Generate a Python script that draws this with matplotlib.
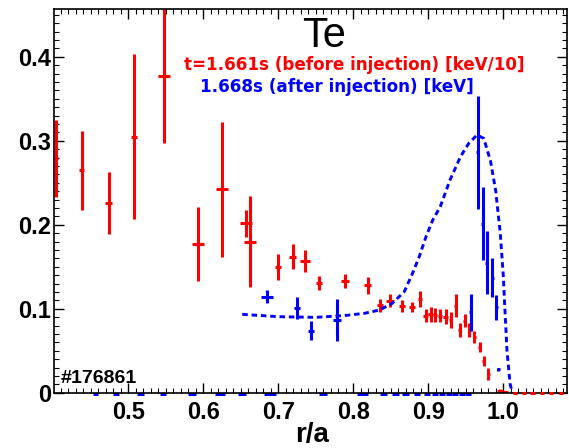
import matplotlib

matplotlib.use("Agg")
import matplotlib.pyplot as plt
import numpy as np
from matplotlib.ticker import FuncFormatter, MultipleLocator

# before injection (keV/10): r/a, Te, Te error, r/a error
red_x = [0.4036, 0.4377, 0.4737, 0.5071, 0.548, 0.593, 0.625, 0.657, 0.6617, 0.699,
         0.719, 0.7356, 0.7547, 0.7889, 0.8191, 0.8356, 0.849, 0.8653, 0.8787, 0.8889,
         0.8964, 0.9031, 0.909, 0.9156, 0.9231, 0.9297, 0.9364, 0.9423, 0.9489, 0.9547,
         0.9613, 0.9689, 0.9742, 0.980, 0.995, 1.003]
red_y = [0.279, 0.265, 0.226, 0.305, 0.377, 0.177, 0.242, 0.2017, 0.180, 0.150,
         0.162, 0.157, 0.131, 0.133, 0.128, 0.104, 0.1095, 0.1036, 0.1017, 0.1115,
         0.0917, 0.0933, 0.0925, 0.0917, 0.0905, 0.0865, 0.1036, 0.0746, 0.0857, 0.0746,
         0.066, 0.0548, 0.038, 0.022, 0.002, 0.001]
red_yerr = [0.046, 0.047, 0.037, 0.098, 0.080, 0.044, 0.080, 0.016, 0.054, 0.0155,
            0.0145, 0.013, 0.0085, 0.008, 0.010, 0.0075, 0.0075, 0.007, 0.006, 0.010,
            0.008, 0.009, 0.008, 0.008, 0.009, 0.009, 0.014, 0.0085, 0.0075, 0.0085,
            0.007, 0.006, 0.006, 0.007, 0.002, 0.001]
red_xerr = [0.003, 0.003, 0.005, 0.004, 0.008, 0.008, 0.008, 0.008, 0.008, 0.004,
            0.0045, 0.0065, 0.004, 0.005, 0.005, 0.0045, 0.005, 0.004, 0.004, 0.003,
            0.003, 0.003, 0.003, 0.003, 0.003, 0.002, 0.002, 0.002, 0.002, 0.002,
            0.002, 0.002, 0.002, 0.002, 0.004, 0.003]
red_zero_x = [1.016, 1.028, 1.039, 1.052, 1.064, 1.077]

# after injection (keV)
blue_x = [0.6849, 0.7249, 0.7436, 0.7783, 0.9569, 0.9658, 0.9725, 0.9782, 0.9853, 0.9907, 0.9933]
blue_y = [0.1143, 0.1012, 0.0738, 0.0865, 0.096, 0.286, 0.201, 0.155, 0.137, 0.1015, 0.028]
blue_yerr = [0.008, 0.013, 0.011, 0.025, 0.022, 0.067, 0.0435, 0.037, 0.023, 0.015, 0.002]
blue_xerr = [0.0075, 0.0045, 0.004, 0.005, 0.002, 0.002, 0.002, 0.002, 0.002, 0.002, 0.002]
blue_zero_x = [0.456, 0.484, 0.516, 0.546, 0.585, 0.6227, 0.6516, 0.6893, 0.7593, 0.812,
               0.840, 0.856, 0.8693, 0.8849, 0.8983, 0.9093, 0.9187, 0.9273, 0.936, 0.9449, 0.9527]
blue_zero_xerr = [0.0033, 0.004, 0.0045, 0.004, 0.0055, 0.0065, 0.0055, 0.008, 0.0055, 0.007,
                  0.0045, 0.0045, 0.0045, 0.0045, 0.0045, 0.004, 0.004, 0.004, 0.004, 0.004, 0.004]

# fitted profile after injection
fit_x = [0.652, 0.70, 0.75, 0.79, 0.815, 0.835, 0.852, 0.868, 0.879, 0.888, 0.897, 0.906,
         0.916, 0.929, 0.943, 0.954, 0.965, 0.974, 0.983, 0.990, 0.996, 1.000, 1.003,
         1.005, 1.009, 1.012]
fit_y = [0.0933, 0.0905, 0.0897, 0.0920, 0.0945, 0.0984, 0.1064, 0.1202, 0.142, 0.162,
         0.1857, 0.2056, 0.2214, 0.2532, 0.281, 0.2969, 0.3068, 0.3028, 0.276, 0.240,
         0.190, 0.140, 0.085, 0.050, 0.0111, 0.0]

W, H = 569, 448


def fig_xy(px, py):
    return px / W, 1 - py / H


def main() -> None:
    fig = plt.figure(figsize=(W / 100, H / 100), dpi=100)
    ax = fig.add_axes([54 / W, 1 - 392.7 / H, (567 - 54) / W, (392.7 - 9) / H])

    red = "#ff0000"
    blue = "#0000ff"
    ax.errorbar(red_x, red_y, yerr=red_yerr, xerr=red_xerr, fmt="none", ecolor=red, elinewidth=2.2, capsize=0)
    ax.errorbar(red_zero_x, np.zeros(len(red_zero_x)), xerr=0.0027, fmt="none", ecolor=red,
                elinewidth=2.2, capsize=0, clip_on=False, zorder=3)
    ax.errorbar(blue_x, blue_y, yerr=blue_yerr, xerr=blue_xerr, fmt="none", ecolor=blue, elinewidth=2.2, capsize=0)
    eb = ax.errorbar(blue_zero_x, np.full(len(blue_zero_x), -0.0015), xerr=blue_zero_xerr, fmt="none",
                     ecolor=blue, elinewidth=2.2, capsize=0)
    for coll in eb.lines[2]:
        coll.set_clip_on(False)
    ax.plot(fit_x, fit_y, color=blue, lw=2.1, linestyle=(0, (1.9, 1.3)))

    ax.set_xlim(0.401, 1.085)
    ax.set_ylim(0, 0.4568)
    ax.xaxis.set_major_locator(MultipleLocator(0.1))
    ax.xaxis.set_minor_locator(MultipleLocator(0.01))
    ax.yaxis.set_major_locator(MultipleLocator(0.1))
    ax.yaxis.set_minor_locator(MultipleLocator(0.01))
    ax.xaxis.set_major_formatter(FuncFormatter(lambda v, p: f"{v:.1f}"))
    ax.yaxis.set_major_formatter(FuncFormatter(lambda v, p: "0" if abs(v) < 1e-9 else f"{v:.1f}"))

    ax.tick_params(which="both", direction="in", top=True, right=True, color="black")
    ax.tick_params(which="major", length=7.5, width=1.0, labelsize=17, pad=6)
    ax.tick_params(which="minor", length=3.8, width=0.8)
    ax.tick_params(axis="y", which="major", pad=2)
    for lab in ax.get_xticklabels() + ax.get_yticklabels():
        lab.set_fontfamily("Liberation Sans")
        lab.set_fontweight("bold")
    for sp in ax.spines.values():
        sp.set_linewidth(1.2)

    x, y = fig_xy(312, 441.5)
    fig.text(x, y, "r/a", ha="center", va="baseline", fontsize=20, fontweight="bold", family="Liberation Sans")

    x, y = fig_xy(324, 47.3)
    fig.text(x, y, "Te", ha="center", va="baseline", fontsize=30, family="Liberation Sans")
    x, y = fig_xy(354.5, 70)
    fig.text(x, y, "t=1.661s (before injection) [keV/10]", ha="center", va="baseline",
             fontsize=12.1, fontweight="bold", color=red)
    x, y = fig_xy(336.5, 91.7)
    fig.text(x, y, "1.668s (after injection) [keV]", ha="center", va="baseline",
             fontsize=12.1, fontweight="bold", color=blue)
    x, y = fig_xy(60.5, 383.3)
    fig.text(x, y, "#176861", ha="left", va="baseline", fontsize=14, fontweight="bold", family="Liberation Sans")

    fig.savefig("out.png", dpi=100)
    plt.close(fig)


if __name__ == "__main__":
    main()
